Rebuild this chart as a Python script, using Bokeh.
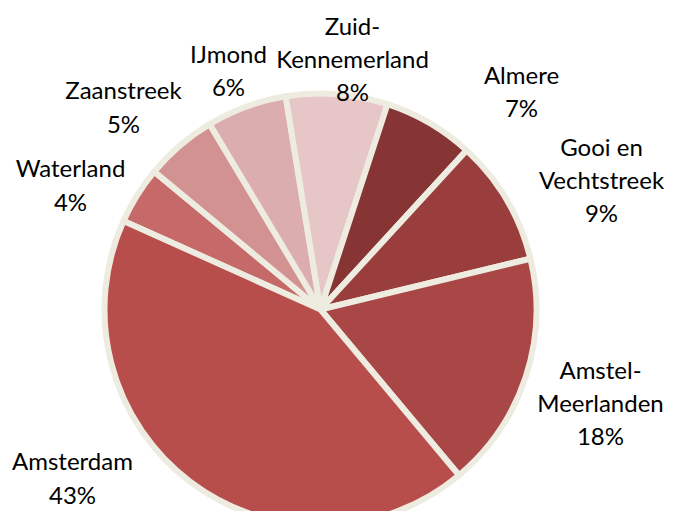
import math
from bokeh.plotting import figure
from bokeh.models import Range1d, ColumnDataSource
from bokeh.core.properties import value
from bokeh.embed import file_html
from bokeh.resources import INLINE

# ---- data (clockwise order) ----
regions = ["Waterland", "Zaanstreek", "IJmond", "Zuid-\nKennemerland", "Almere",
           "Gooi en\nVechtstreek", "Amstel-\nMeerlanden", "Amsterdam"]
shares = [4.3, 5.4, 6.0, 7.6, 6.8, 9.4, 17.7, 42.8]
colors = ["#C56A68", "#D29291", "#DBADAE", "#E6C6C7", "#863434",
          "#9A3E3D", "#A94746", "#B84E4B"]

# ---- layout (pixel coordinates; y measured downward) ----
W, H = 669, 511
cx, cy, R = 320, 309, 216
start_deg = 155.8
label_x = [70, 123, 228, 352, 521, 601, 600, 72]
label_y = [184, 106, 69.5, 58, 90.5, 179, 402, 477]

total = sum(shares)
starts, ends = [], []
acc = 0.0
for s in shares:
    a0 = math.radians(start_deg) - acc / total * 2 * math.pi
    acc += s
    a1 = math.radians(start_deg) - acc / total * 2 * math.pi
    starts.append(a0)
    ends.append(a1)

labels = [f"{r}\n{round(s / total * 100)}%" for r, s in zip(regions, shares)]

src = ColumnDataSource(dict(start=starts, end=ends, color=colors))
lsrc = ColumnDataSource(dict(x=label_x, y=[-v for v in label_y], text=labels))

p = figure(width=W, height=H, output_backend="svg", toolbar_location=None,
           x_range=Range1d(0, W), y_range=Range1d(-H, 0),
           min_border=0, background_fill_color="white", border_fill_color="white")
p.axis.visible = False
p.grid.visible = False
p.outline_line_color = None

p.wedge(x=cx, y=-cy, radius=R, start_angle="start", end_angle="end",
        direction="clock", fill_color="color", line_color="#EEEBE0",
        line_width=6, line_join="round", source=src)

p.text(x="x", y="y", text="text", source=lsrc, text_align="center",
       text_baseline="middle", text_font=value("Lato"),
       text_font_size="24px", text_line_height=1.15, text_color="#000000")

open("out.html", "w").write(file_html(p, INLINE))
